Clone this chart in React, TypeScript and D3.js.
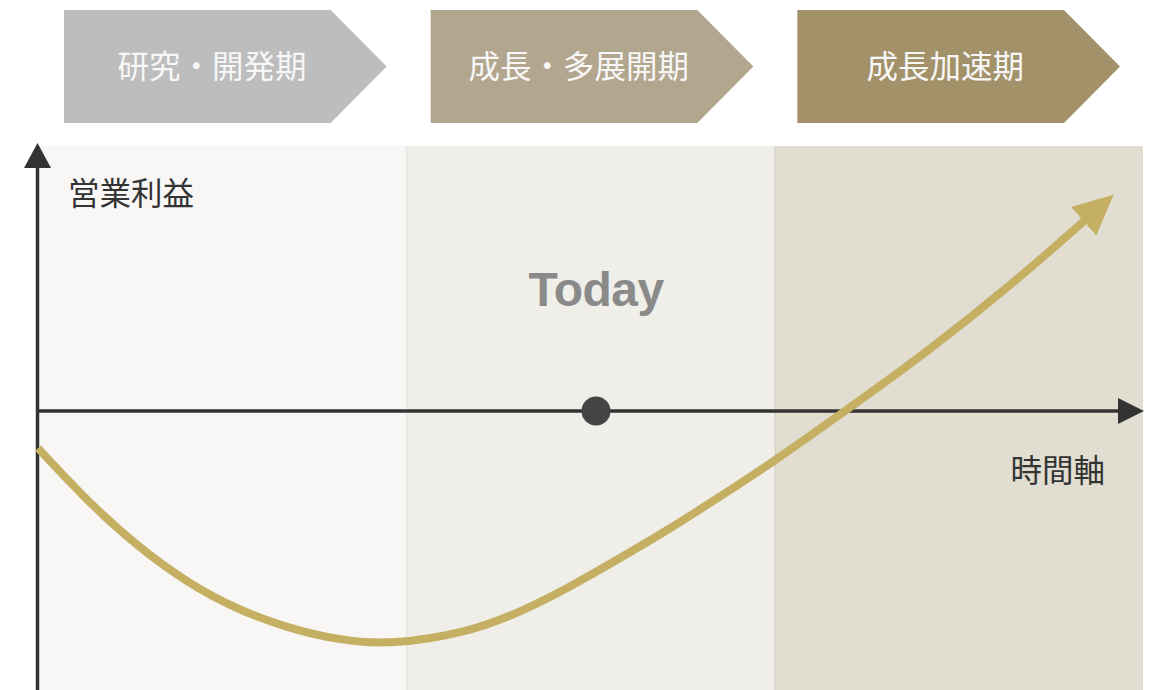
import React from "react";
import * as d3 from "d3";

// phases shown as chevrons along the top
const phaseNames = ["研究・開発期", "成長・多展開期", "成長加速期"];
const phaseStart = [0, 1, 2];

// operating profit curve (time in phase units, profit in arbitrary units)
const timePoints = [
  0, 0.136, 0.271, 0.407, 0.543, 0.679, 0.815, 0.956, 1.173, 1.309, 1.444, 1.58, 1.716, 1.852, 1.988,
  2.191, 2.414, 2.658, 2.843,
];
const profit = [
  -13.3, -32.6, -48.7, -61.7, -71.3, -77.8, -82.1, -83.9, -79.2, -72.1, -63.1, -52.7, -42.2, -30.6, -19.0,
  0, 21.1, 46.9, 68.5,
];

const todayTime = [1.515];
const labels = { y: "営業利益", x: "時間軸", today: "Today" };

const chevronFill = ["#bdbdbd", "#b3a68e", "#a3916a"];
const bandFill = ["#f8f7f5", "#efeee9", "#e1ddd1"];
const bandEdge = [null, "#e4e2db", "#d4cfbf"];

const W = 1153;
const H = 690;
const jp = "'Noto Sans CJK JP', 'Noto Sans', sans-serif";

export default function App() {
  const x = d3.scaleLinear().domain([0, 3]).range([38, 1143]);
  const y = d3.scaleLinear().domain([-100, 95]).range([H, 146]);
  const chev = d3.scaleBand<string>().domain(phaseNames).range([64, 1120]).paddingInner(0.12);

  const line = d3
    .line<number>()
    .x((d, i) => x(timePoints[i]))
    .y((d) => y(d))
    .curve(d3.curveBasis);

  const y0 = y(0);
  const axisColor = "#333333";
  const bandTop = y.range()[1];

  return (
    <>
      <style>{`body{margin:0}`}</style>
      <svg width={W} height={H} style={{ display: "block" }}>
        <defs>
          <marker
            id="goldHead"
            markerUnits="userSpaceOnUse"
            viewBox="0 0 40 38"
            refX={2}
            refY={19}
            markerWidth={40}
            markerHeight={38}
            orient="auto"
          >
            <path d="M0,0L40,19L0,38Z" fill="#c4af62" />
          </marker>
        </defs>

        {/* background bands */}
        {phaseStart.map((p, i) => (
          <g key={"band" + i}>
            <rect x={x(p)} y={bandTop} width={x(p + 1) - x(p)} height={H - bandTop} fill={bandFill[i]} />
            {bandEdge[i] && (
              <line x1={x(p) + 0.5} x2={x(p) + 0.5} y1={bandTop} y2={H} stroke={bandEdge[i]!} strokeWidth={1} />
            )}
          </g>
        ))}

        {/* phase chevrons */}
        {phaseNames.map((name, i) => {
          const x0 = chev(name)!;
          const tip = x0 + chev.bandwidth();
          const body = tip - 56;
          const top = 10;
          const bot = 123;
          const mid = (top + bot) / 2;
          return (
            <g key={"chev" + i}>
              <path
                d={`M${x0},${top}L${body},${top}L${tip},${mid}L${body},${bot}L${x0},${bot}Z`}
                fill={chevronFill[i]}
              />
              <text
                x={x0 + 148}
                y={78}
                textAnchor="middle"
                fontFamily={jp}
                fontSize={31.5}
                fill="#f7f7f7"
              >
                {name}
              </text>
            </g>
          );
        })}

        {/* axes */}
        <line x1={37.5} x2={37.5} y1={H} y2={165} stroke={axisColor} strokeWidth={3.5} />
        <path d={`M37.5,143L51,168L24,168Z`} fill={axisColor} />
        <line x1={38} x2={1120} y1={y0} y2={y0} stroke={axisColor} strokeWidth={3.5} />
        <path d={`M1144,${y0}L1118,${y0 - 13}L1118,${y0 + 13}Z`} fill={axisColor} />

        {/* profit curve */}
        <path
          d={line(profit) || ""}
          fill="none"
          stroke="#c4af62"
          strokeWidth={8}
          markerEnd="url(#goldHead)"
        />

        {/* today marker */}
        {todayTime.map((t, i) => (
          <g key={"today" + i}>
            <circle cx={x(t)} cy={y0} r={14.5} fill="#444444" />
            <text
              x={x(t)}
              y={306}
              textAnchor="middle"
              fontFamily="'Liberation Sans', Arial, sans-serif"
              fontWeight="bold"
              fontSize={48}
              letterSpacing={-0.5}
              fill="#8a8a8a"
            >
              {labels.today}
            </text>
          </g>
        ))}

        <text x={68} y={205} fontFamily={jp} fontSize={31.5} fill="#333333">
          {labels.y}
        </text>
        <text x={1105} y={482} textAnchor="end" fontFamily={jp} fontSize={31.5} fill="#333333">
          {labels.x}
        </text>
      </svg>
    </>
  );
}
